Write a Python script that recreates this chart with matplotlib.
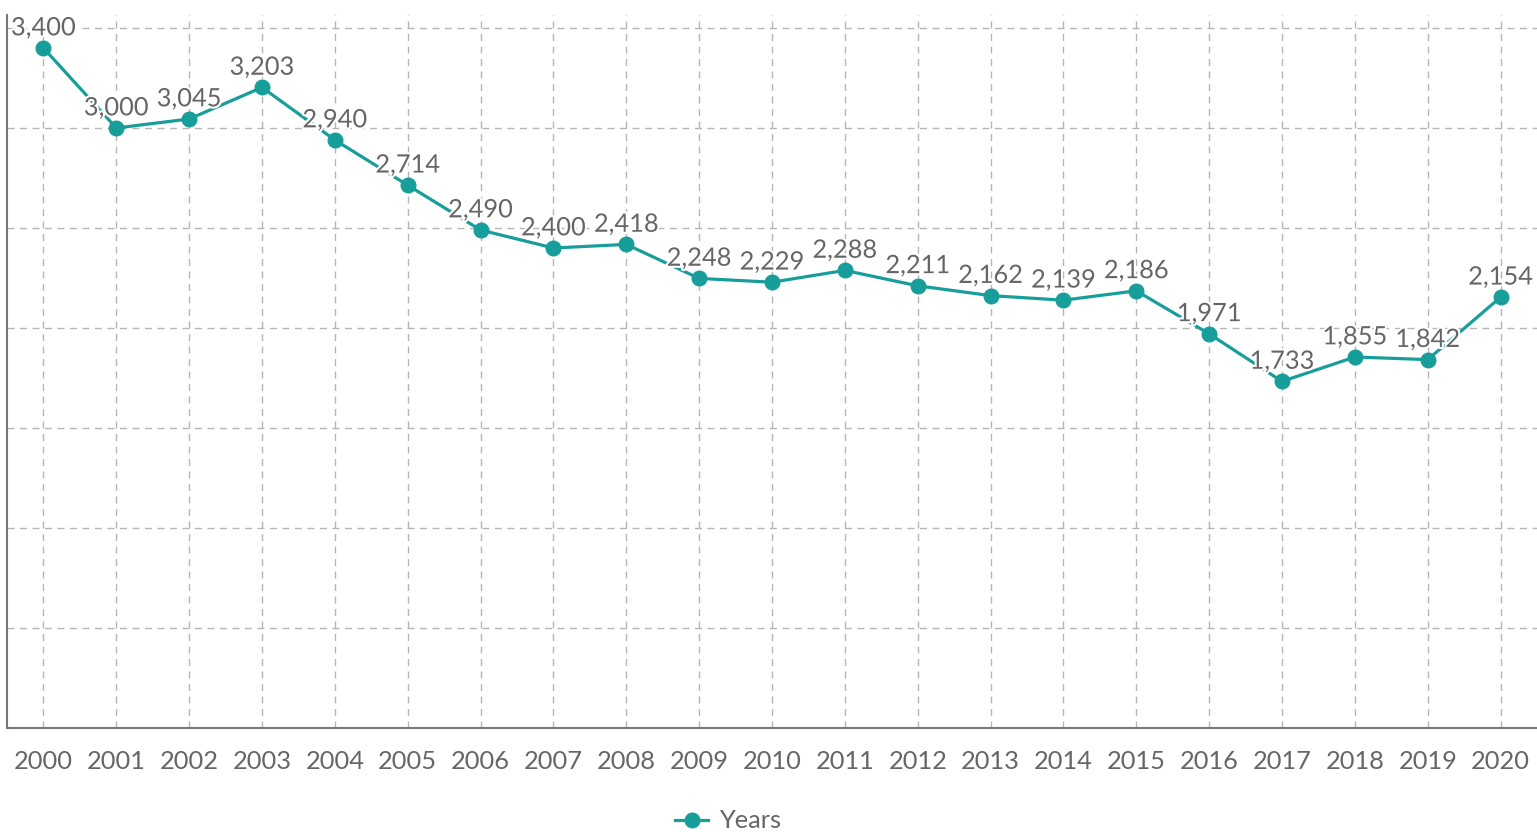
import matplotlib
matplotlib.use("Agg")
import matplotlib.pyplot as plt
import matplotlib.patheffects as pe
from matplotlib.lines import Line2D

years = list(range(2000, 2021))
values = [3400, 3000, 3045, 3203, 2940, 2714, 2490, 2400, 2418, 2248, 2229,
          2288, 2211, 2162, 2139, 2186, 1971, 1733, 1855, 1842, 2154]
series_name = "Years"

plt.rcParams['font.family'] = ['Lato', 'DejaVu Sans']
teal = "#179e9b"
gray = "#666666"

fig = plt.figure(figsize=(15.37, 8.32), dpi=100)
ax = fig.add_axes([7/1537, 104/832, 1 - 7/1537, (728-15)/832])

ax.plot(years, values, color=teal, lw=2.3, marker='o', markersize=10.5, zorder=3)
for x, v in zip(years, values):
    ax.annotate(f"{v:,}", (x, v), xytext=(0, 14.5), textcoords='offset points',
                ha='center', va='center', fontsize=18.3, color=gray, zorder=4,
                path_effects=[pe.withStroke(linewidth=3, foreground='white')])

ax.set_xlim(1999.5, 2020.5)
ax.set_ylim(0, 3565)
ax.set_xticks(years)
ax.set_yticks(range(0, 3501, 500))
ax.set_yticklabels([])
ax.tick_params(axis='y', length=0)
ax.tick_params(axis='x', length=0, labelsize=18.3, labelcolor=gray, pad=16)
ax.grid(True, linestyle=(0, (5, 4)), color='#b5b5b5', lw=1)
ax.set_axisbelow(True)
for s in ['top', 'right']:
    ax.spines[s].set_visible(False)
for s in ['left', 'bottom']:
    ax.spines[s].set_color('#777777')
    ax.spines[s].set_linewidth(1.5)

handle = Line2D([], [], color=teal, lw=2.3, marker='o', markersize=10.5)
fig.legend([handle], [series_name], loc='center', bbox_to_anchor=(728/1537, 1 - 821/832),
           frameon=False, fontsize=18.3, labelcolor=gray, handlelength=1.3, handletextpad=0.4)

fig.savefig("out.png", dpi=100)
